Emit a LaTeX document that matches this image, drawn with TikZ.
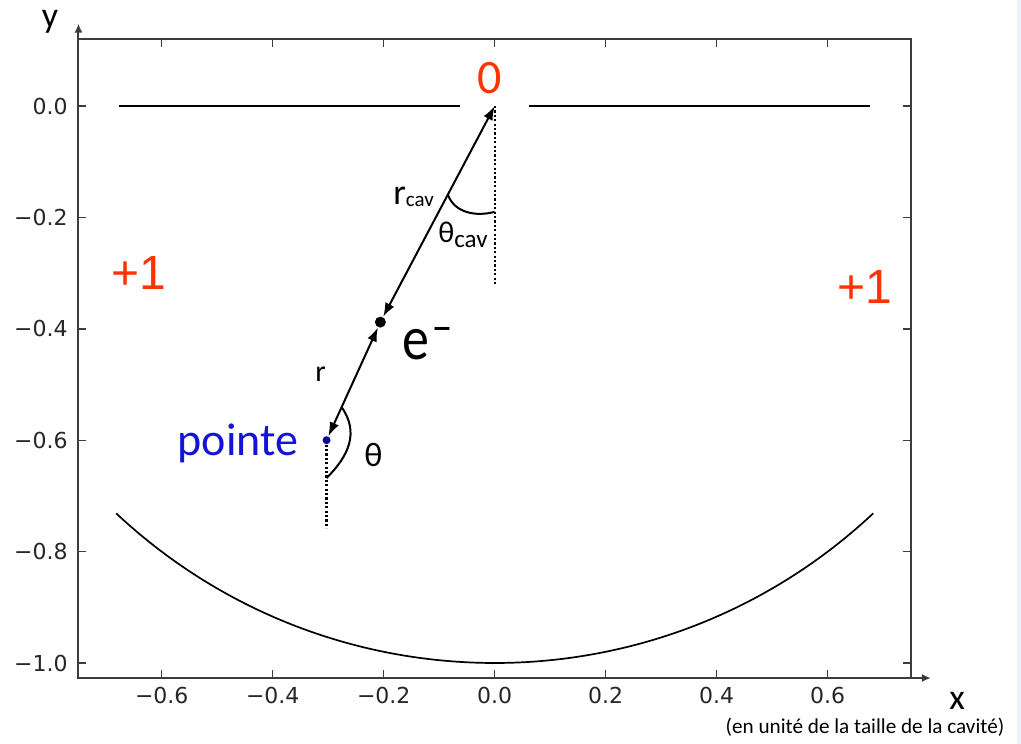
\documentclass[tikz,border=0pt]{standalone}
\usepackage{graphicx}
\usepackage{fontspec}
\setmainfont{Carlito}
\newfontfamily\tickfont{DejaVu Sans}
\newfontfamily\arialfont{Liberation Sans}
\usetikzlibrary{arrows.meta,calc}
\definecolor{redlab}{RGB}{255,51,0}
\definecolor{bluelab}{RGB}{20,20,215}
\definecolor{bluedot}{RGB}{10,10,150}
\definecolor{framegray}{RGB}{60,60,60}
\definecolor{stripblue}{RGB}{234,243,252}
\begin{document}
\begin{tikzpicture}[x=277.5pt,y=278.5pt,
  frame/.style={draw=framegray,line width=1pt},
  axarrow/.style={draw=framegray,line width=1pt,-{Latex[length=4.5pt,width=4pt]}},
  tickmark/.style={draw=framegray,line width=0.7pt},
  ticklabel/.style={font=\tickfont\fontsize{11}{13}\selectfont,text=black!85,inner sep=0pt},
  cavity/.style={draw=black,line width=0.85pt},
  vec/.style={draw=black,line width=1pt,{Latex[length=7pt,width=5pt]}-{Latex[length=7pt,width=5pt]}},
  guide/.style={draw=black,line width=1.1pt,dash pattern=on 1.1pt off 1.1pt},
  anglearc/.style={draw=black,line width=1pt},
  lab/.style={inner sep=0pt,anchor=base west},
  clab/.style={inner sep=0pt,anchor=base},
  dot/.style={circle,inner sep=0pt}
]
\useasboundingbox (-0.8914,-1.1454) rectangle (0.9483,0.1903);
\fill[white] (-0.8914,-1.1454) rectangle (0.9483,0.1903);
\fill[stripblue] (0.941,-1.1454) rectangle (0.9483,0.1903);

% frame and axes
\draw[frame] (-0.75,-1.027) rectangle (0.75,0.12);
\draw[axarrow] (-0.75,0.12) -- (-0.75,0.148);
\draw[axarrow] (0.75,-1.027) -- (0.786,-1.027);

\foreach \v/\t [count=\i] in {-0.6/−0.6,-0.4/−0.4,-0.2/−0.2,0/0.0,0.2/0.2,0.4/0.4,0.6/0.6}{
  \draw[tickmark] (\v,-1.027) -- ++(0,0.0144);
  \draw[tickmark] (\v,0.12) -- ++(0,-0.0144);
  \node[ticklabel,anchor=north] (xl\i) at (\v,-1.043) {\t};
}
\foreach \v/\t [count=\i] in {0/0.0,-0.2/−0.2,-0.4/−0.4,-0.6/−0.6,-0.8/−0.8,-1/−1.0}{
  \draw[tickmark] (-0.75,\v) -- ++(0.0144,0);
  \draw[tickmark] (0.75,\v) -- ++(-0.0144,0);
  \node[ticklabel,anchor=east] (yl\i) at (-0.769,\v) {\t};
}
\node[clab] (ylab) at (-0.8013,0.1418) {\fontsize{18}{18}\selectfont y};
\node[clab] (xlab) at (0.8335,-1.0826) {\fontsize{18}{18}\selectfont x};
\node[clab] (cap) at (0.6672,-1.1262) {\fontsize{10.6}{12}\selectfont (en unité de la taille de la cavité)};

% cavity
\draw[cavity] (-0.677,0) -- (-0.062,0);
\draw[cavity] (0.062,0) -- (0.677,0);
\draw[cavity] (227:1) arc[start angle=227,end angle=313,radius=1];

% points
\coordinate (O) at (0,0);
\node[dot,fill=black,minimum size=5.5pt] (E) at (-0.206,-0.388) {};
\node[dot,fill=bluedot,minimum size=4pt] (P) at (-0.303,-0.6) {};

% vectors
\draw[vec] (E) -- (O);
\draw[vec] (P) -- (E);

% guides
\draw[guide] (O) -- (0,-0.321);
\draw[guide] (P) -- (-0.303,-0.758);

% angles
\coordinate (Lc) at ($(O)!0.41!(E)$);
\coordinate (Dc) at (0,-0.19);
\draw[anglearc] (Lc) to[out=-70,in=195] (Dc);
\coordinate (Lp) at ($(P)!0.28!(E)$);
\coordinate (Dp) at (-0.303,-0.668);
\draw[anglearc] (Lp) to[out=-55,in=45,looseness=1.1] (Dp);

% labels
\node[clab,text=redlab] (zero) at (-0.0085,0.0233) {\fontsize{24}{24}\selectfont 0};
\node[lab] (rcav) at (-0.1833,-0.1777) {\fontsize{18}{18}\selectfont r\raisebox{-1pt}{\fontsize{10.5}{10.5}\selectfont cav}};
\node[lab] (thcav) at (-0.1022,-0.2442) {\fontsize{15}{15}\selectfont θ\raisebox{-2.5pt}{\fontsize{12.5}{12.5}\selectfont cav}};
\node[lab] (elab) at (-0.167,-0.456) {\scalebox{1}[1.15]{\fontsize{27}{27}\selectfont e\kern1.5pt\raisebox{7pt}{\fontsize{20}{20}\selectfont −}}};
\node[lab,text=bluelab] (pointe) at (-0.572,-0.6266) {\fontsize{23}{23}\selectfont pointe};
\node[lab] (rlab) at (-0.3238,-0.4955) {\fontsize{15}{15}\selectfont r};
\node[lab] (thlab) at (-0.2355,-0.6481) {\fontsize{17}{17}\selectfont θ};
\node[clab,text=redlab,font=\arialfont\fontsize{24}{24}\selectfont] (pl) at (-0.6418,-0.3303) {+1};
\node[clab,text=redlab,font=\arialfont\fontsize{24}{24}\selectfont] (pr) at (0.6663,-0.3537) {+1};
\end{tikzpicture}
\end{document}
